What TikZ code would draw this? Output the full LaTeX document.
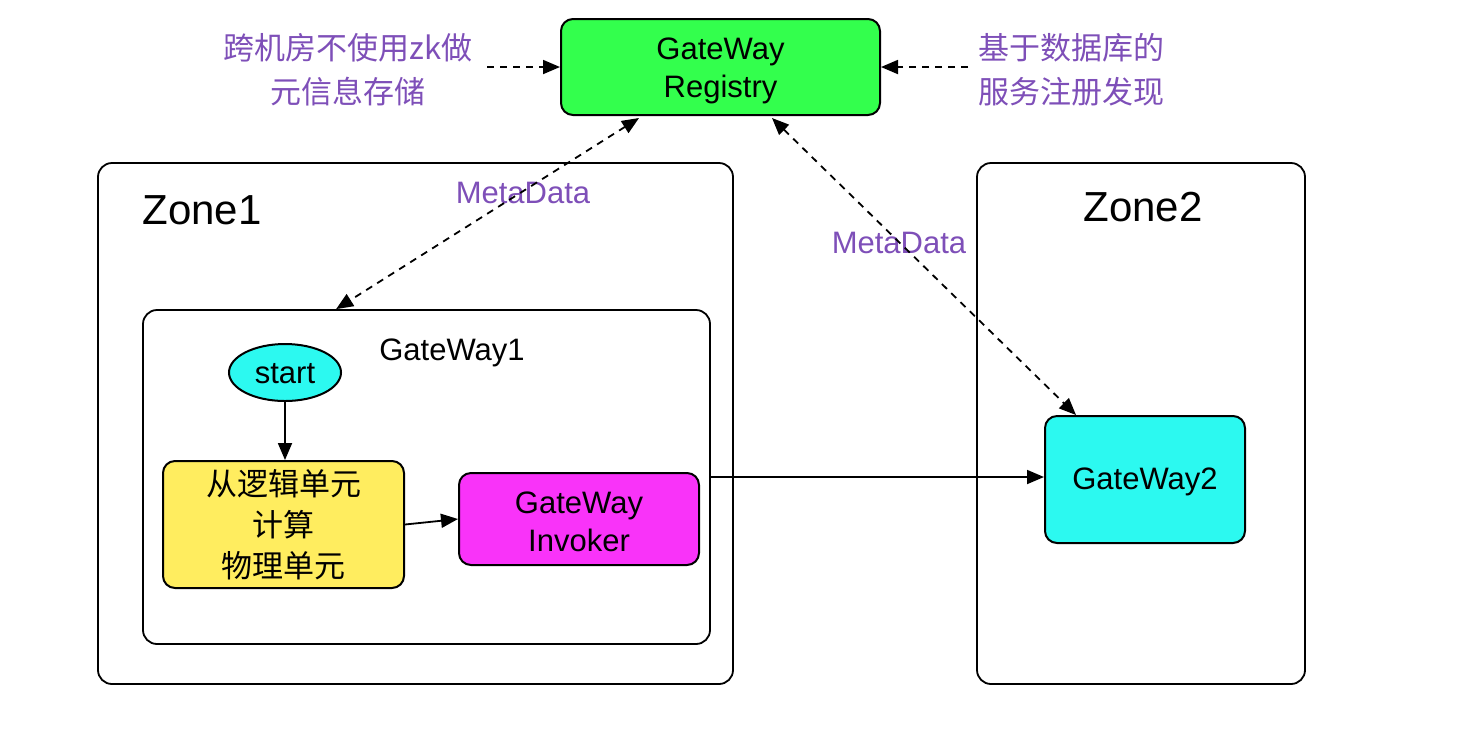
\documentclass[tikz,border=0pt]{standalone}
\usepackage{fontspec}
\setmainfont{Liberation Sans}
\newfontfamily\cjk{Noto Sans CJK SC}
\usetikzlibrary{arrows.meta,shapes.geometric}
\definecolor{regGreen}{HTML}{33FF4D}
\definecolor{cyanFill}{HTML}{2CF9F0}
\definecolor{yelFill}{HTML}{FFED5F}
\definecolor{magFill}{HTML}{F933F9}
\definecolor{purp}{HTML}{7E4FB8}
\tikzset{
  base/.style={font=\fontsize{15.5}{19}\selectfont, align=center},
  box/.style={base, draw, line width=1pt, rounded corners=6pt, inner sep=0pt},
  zonebox/.style={draw, line width=0.9pt, rounded corners=7pt, inner sep=0pt},
  note/.style={base, text=purp},
  tip/.tip={Triangle[length=8.5pt,width=7pt]},
  arr/.style={line width=0.9pt, -tip},
  darr/.style={line width=0.9pt, dash pattern=on 3.5pt off 3pt, -tip},
  ddarr/.style={line width=0.9pt, dash pattern=on 3.5pt off 3pt, tip-tip},
}
\begin{document}
\begin{tikzpicture}[x=0.5pt,y=-0.5pt]
\useasboundingbox (0,0) rectangle (1460,730);
% containers
\node[zonebox, minimum width=317.5pt, minimum height=260.5pt] (zone1) at (415.5,423.5) {};
\node[zonebox, minimum width=164pt, minimum height=260.5pt] (zone2) at (1141,423.5) {};
\node[zonebox, minimum width=283.5pt, minimum height=167pt] (gw1) at (426.5,477) {};
\node[base, font=\fontsize{21}{25}\selectfont] (z1lab) at (202,210) {Zone1};
\node[base, font=\fontsize{21}{25}\selectfont] (z2lab) at (1143,207) {Zone2};
\node[base] (gw1lab) at (452,353) {GateWay1};
% main nodes
\node[box, fill=regGreen, minimum width=159.5pt, minimum height=48pt] (reg) at (720.5,67) {};
\node[base] (regtxt) at (720.5,71) {GateWay\\Registry};
\node[base, draw, line width=1pt, ellipse, fill=cyanFill, inner sep=0pt, minimum width=56pt, minimum height=28.5pt] (start) at (285,372.5) {};
\node[base] (starttxt) at (285,374) {start};
\node[box, fill=yelFill, minimum width=120.5pt, minimum height=63.5pt, font=\cjk\fontsize{15.5}{20.5}\selectfont] (calc) at (283.5,524.5) {从逻辑单元\\计算\\物理单元};
\node[box, fill=magFill, minimum width=120pt, minimum height=46pt] (inv) at (579,519) {};
\node[base] (invtxt) at (579,522) {GateWay\\Invoker};
\node[box, fill=cyanFill, minimum width=100pt, minimum height=63.5pt] (gw2) at (1145,479.5) {};
\node[base] (gw2txt) at (1145,481.5) {GateWay2};
% notes
\node[note, font=\cjk\fontsize{15.5}{22}\selectfont] (lnote) at (348,70) {跨机房不使用zk做\\元信息存储};
\node[note, font=\cjk\fontsize{15.5}{22}\selectfont] (rnote) at (1071,70) {基于数据库的\\服务注册发现};
\node[note] (md1) at (523,193) {MetaData};
\node[note] (md2) at (899,243) {MetaData};
% connectors
\coordinate (la) at (487,67);
\coordinate (ra) at (968,67);
\draw[darr] (la) -- (reg.west);
\draw[darr] (ra) -- (reg.east);
\draw[ddarr] ([xshift=39.5pt,yshift=-1pt]reg.south west) -- ([xshift=97pt]gw1.north west);
\draw[ddarr] ([xshift=106pt,yshift=-1pt]reg.south west) -- ([xshift=16pt]gw2.north west);
\draw[arr] (start.south) -- (start.south |- calc.north);
\draw[arr] (calc.east) -- (inv.west);
\draw[arr] (gw1.east) -- (gw1.east -| gw2.west);
\end{tikzpicture}
\end{document}
